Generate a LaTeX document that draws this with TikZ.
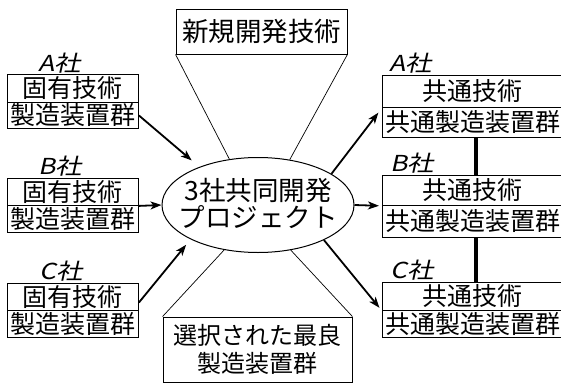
\documentclass[tikz,border=0pt]{standalone}
\usepackage{fontspec}
\setmainfont{Noto Sans CJK JP}
\newfontfamily\labfont[FakeSlant=0.22,FakeStretch=1.2]{Noto Sans CJK JP}
\usetikzlibrary{arrows.meta,shapes.geometric,calc}
\tikzset{
  cell/.style={draw, line width=0.9pt, inner sep=0pt, anchor=north west,
    font=\fontsize{25pt}{28pt}\selectfont},
  lcell/.style={cell, minimum width=131pt},
  rcell/.style={cell, minimum width=181pt},
  comp/.style={font=\labfont\fontsize{22pt}{22pt}\selectfont, inner sep=0pt},
  arr/.style={line width=1.8pt, -{Stealth[length=11pt,width=8pt,inset=3pt]}},
  thin/.style={line width=0.7pt},
  bar/.style={line width=4pt},
  bigbox/.style={draw, line width=0.9pt, inner sep=0pt, align=center}
}
\begin{document}
\begin{tikzpicture}[x=1pt,y=-1pt]
\useasboundingbox (0,0) rectangle (561,383);
\clip (0,0) rectangle (561,383);
\fill[white] (0,0) rectangle (561,383);

% left boxes
\node[comp] (lAl) at (60,63) {A社};
\node[lcell, minimum height=28pt] (lA1) at (7,74) {固有技術};
\node[lcell, minimum height=26pt] (lA2) at (7,102) {製造装置群};
\node[comp] (lBl) at (60,166) {B社};
\node[lcell, minimum height=27pt] (lB1) at (7,178) {固有技術};
\node[lcell, minimum height=27pt] (lB2) at (7,205) {製造装置群};
\node[comp] (lCl) at (61,271) {C社};
\node[lcell, minimum height=27pt] (lC1) at (7,283) {固有技術};
\node[lcell, minimum height=27pt] (lC2) at (7,310) {製造装置群};

% right boxes
\node[comp] (rAl) at (411,63) {A社};
\node[rcell, minimum height=32pt] (rA1) at (382,75) {共通技術};
\node[rcell, minimum height=30pt] (rA2) at (382,107) {共通製造装置群};
\node[comp] (rBl) at (412,163) {B社};
\node[rcell, minimum height=30pt] (rB1) at (382,175) {共通技術};
\node[rcell, minimum height=32pt] (rB2) at (382,205) {共通製造装置群};
\node[comp] (rCl) at (412,270) {C社};
\node[rcell, minimum height=28pt] (rC1) at (382,282) {共通技術};
\node[rcell, minimum height=27pt] (rC2) at (382,310) {共通製造装置群};

% centre
\node[draw, ellipse, line width=1pt, minimum width=192pt, minimum height=95pt, inner sep=0pt] (ell) at (258,205) {};
\node[align=center, inner sep=0pt, font=\fontsize{26.5pt}{27pt}\selectfont] (ellt) at (258,203) {3社共同開発\\プロジェクト};

% top and bottom boxes
\node[bigbox, minimum width=171pt, minimum height=45pt, font=\fontsize{26.5pt}{28pt}\selectfont] (tb) at (261.5,31.5) {新規開発技術};
\node[bigbox, minimum width=189pt, minimum height=65pt, font=\fontsize{24pt}{28pt}\selectfont] (bb) at (257.5,349.5) {選択された最良\\製造装置群};

% fan lines
\draw[thin] (tb.south west) -- (ell.122);
\draw[thin] (tb.south east) -- (ell.55);
\draw[thin] (bb.north west) -- (ell.233);
\draw[thin] (bb.north east) -- (ell.306);

% arrows in
\draw[arr, shorten >=10pt] (lA2.east) -- (ell.147);
\draw[arr] (lB1.south east) -- (ell.west);
\draw[arr, shorten >=7pt] ($(lC1.south east)!0.3!(lC1.north east)$) -- (ell.207);

% arrows out
\draw[arr, shorten >=6pt] (ell.23) -- (rA1.south west);
\draw[arr, shorten >=3pt] (ell.east) -- (rB1.south west);
\draw[arr, shorten >=4pt] (ell.332) -- (rC1.south west);

% links
\draw[bar] ([xshift=3.5pt]rA2.south) -- ([xshift=3.5pt]rB1.north);
\draw[bar] ([xshift=3.5pt]rB2.south) -- ([xshift=3.5pt]rC1.north);
\end{tikzpicture}
\end{document}
